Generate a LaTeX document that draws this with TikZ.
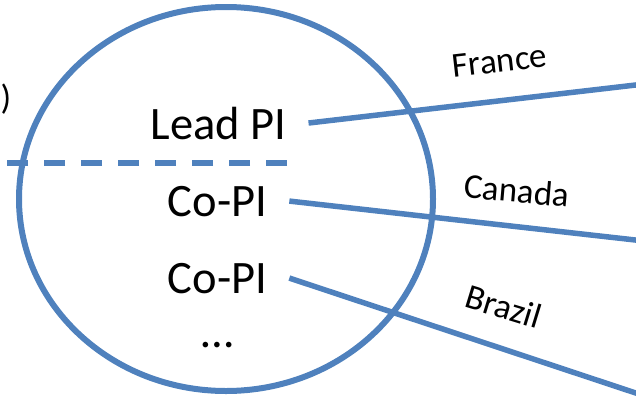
\documentclass[tikz,border=0pt]{standalone}
\usepackage{fontspec}
\setmainfont{Carlito}
\definecolor{officeblue}{HTML}{4F81BD}
\tikzset{
  bigtext/.style={font=\fontsize{46.5}{50}\selectfont, inner xsep=22pt, inner ysep=0pt, text=black},
  lbl/.style={font=\fontsize{35}{40}\selectfont, inner sep=0pt, anchor=base, text=black},
  link/.style={draw=officeblue, line width=5.5pt},
  dashlink/.style={draw=officeblue, line width=5.5pt, dash pattern=on 21pt off 16pt},
  ring/.style={draw=officeblue, line width=6pt},
}
\begin{document}
\begin{tikzpicture}[x=1pt,y=-1pt]
\useasboundingbox (0,0) rectangle (636,397);
\clip (0,0) rectangle (636,397);
% ellipse
\draw[ring] (226,199) ellipse [x radius=207, y radius=192];
% people
\node[bigtext, anchor=base] (lead) at (218.5,139) {Lead PI};
\node[bigtext, anchor=base] (co1) at (217.5,216) {Co-PI};
\node[bigtext, anchor=base] (co2) at (217.5,293) {Co-PI};
\node[bigtext, anchor=base] (dots) at (217.5,347) {…};
% dashed separator
\coordinate (dl) at (-2,163);
\coordinate (dr) at (287,163);
\draw[dashlink] (dr) -- (dl);
% far ends
\coordinate (fr) at (646,83.8);
\coordinate (ca) at (646,241.2);
\coordinate (br) at (646,396.4);
\draw[link] (lead.east) -- (fr);
\draw[link] (co1.east) -- (ca);
\draw[link] (co2.east) -- (br);
% country labels
\node[lbl, rotate=6.5] (lfr) at (501,72) {France};
\node[lbl, rotate=-5] (lca) at (516,202.5) {Canada};
\node[lbl, rotate=-17] (lbr) at (500,318) {Brazil};
% cut-off marks at left edge
\node[font=\fontsize{35}{40}\selectfont, inner sep=0pt] (paren) at (6,99) {)};
\node[font=\fontsize{46}{50}\selectfont, inner sep=0pt, anchor=east] (comma) at (3.5,376) {,};
\end{tikzpicture}
\end{document}
